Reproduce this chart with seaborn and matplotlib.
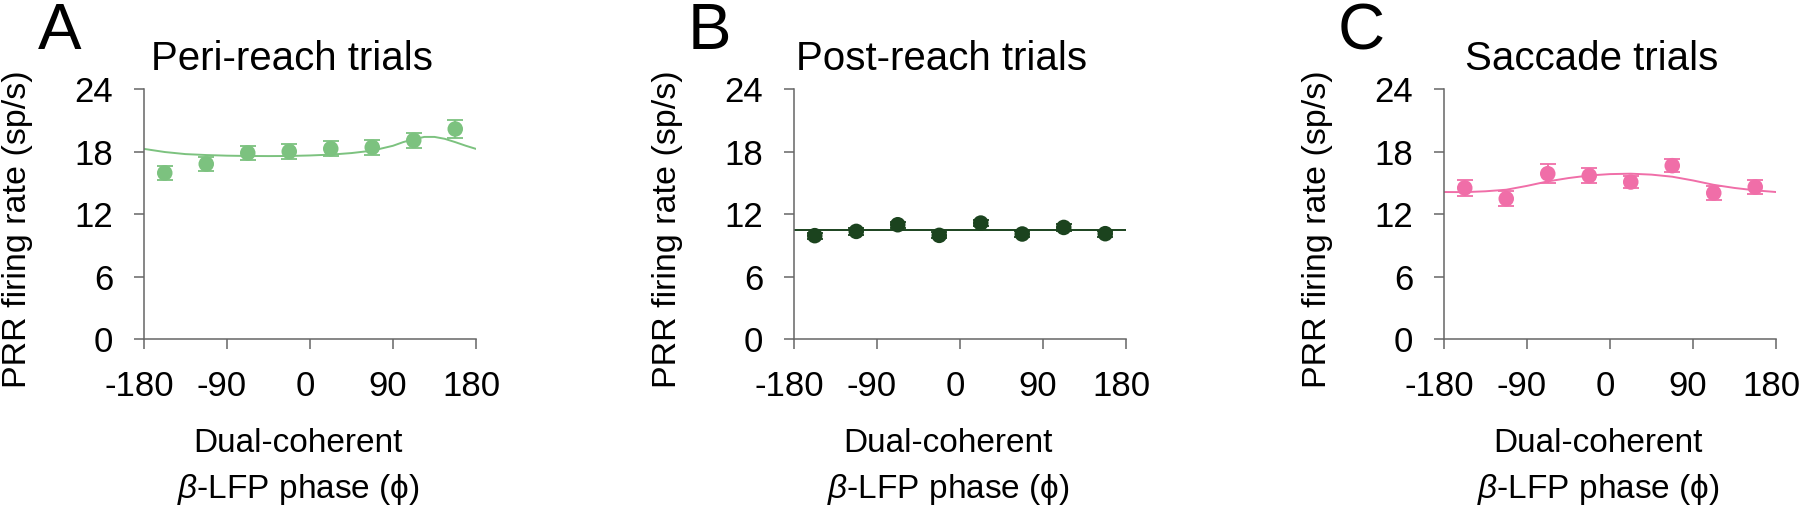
import numpy as np
import pandas as pd
import seaborn as sns
import matplotlib.pyplot as plt
from matplotlib.transforms import ScaledTranslation

sns.set_theme(style="ticks")
plt.rcParams["font.family"] = ["Liberation Sans", "DejaVu Sans"]
plt.rcParams["mathtext.fontset"] = "custom"
plt.rcParams["mathtext.it"] = "Liberation Sans:italic"
plt.rcParams["mathtext.rm"] = "Liberation Sans"
plt.rcParams["axes.unicode_minus"] = False
plt.rcParams["text.color"] = "black"
plt.rcParams["axes.labelcolor"] = "black"

# Binned phase (deg) of the dual-coherent beta-LFP
phase = [-157.5, -112.5, -67.5, -22.5, 22.5, 67.5, 112.5, 157.5]

# Mean firing rate and SEM per phase bin
rate_peri = [15.94, 16.8, 17.86, 18.0, 18.27, 18.4, 19.07, 20.16]
sem_peri = [0.64, 0.67, 0.7, 0.72, 0.7, 0.69, 0.72, 0.86]
rate_post = [9.92, 10.33, 10.97, 9.95, 11.13, 10.08, 10.71, 10.11]
sem_post = [0.3, 0.3, 0.3, 0.3, 0.3, 0.3, 0.3, 0.3]
rate_sacc = [14.5, 13.47, 15.87, 15.68, 15.07, 16.64, 14.02, 14.59]
sem_sacc = [0.74, 0.72, 0.9, 0.7, 0.6, 0.65, 0.7, 0.7]

# Fitted curves
fit_phase_peri = [-180, -157.5, -135, -112.5, -90, -67.5, -45, -22.5, 0, 22.5, 45,
                  67.5, 90, 101, 112.5, 124, 135, 146, 157.5, 169, 180]
fit_peri = [18.25, 17.95, 17.75, 17.66, 17.6, 17.57, 17.56, 17.57, 17.62, 17.7, 17.85,
            18.08, 18.55, 18.9, 19.18, 19.4, 19.4, 19.22, 18.9, 18.55, 18.25]
fit_phase_post = [-180, 180]
fit_post = [10.43, 10.43]
fit_phase_sacc = [-180, -157.5, -135, -112.5, -90, -67.5, -45, -22.5, 0, 22.5, 45,
                  67.5, 90, 112.5, 135, 157.5, 180]
fit_sacc = [14.11, 14.1, 14.18, 14.33, 14.7, 15.13, 15.45, 15.7, 15.83, 15.87, 15.78,
            15.58, 15.22, 14.8, 14.5, 14.27, 14.11]

letters = ["A", "B", "C"]
titles = ["Peri-reach trials", "Post-reach trials", "Saccade trials"]
colors = ["#7cc27f", "#1b431e", "#f06ea8"]
rates = [rate_peri, rate_post, rate_sacc]
sems = [sem_peri, sem_post, sem_sacc]
fit_phases = [fit_phase_peri, fit_phase_post, fit_phase_sacc]
fits = [fit_peri, fit_post, fit_sacc]

xticks = [-180, -90, 0, 90, 180]
yticks = [0, 6, 12, 18, 24]

W, H = 1800, 511
fig = plt.figure(figsize=(W / 100, H / 100), dpi=100)
lefts = [144, 794, 1444]
spine_col = "#666666"

for i in range(3):
    ax = fig.add_axes([lefts[i] / W, (H - 339) / H, 332 / W, 250 / H])
    df = pd.DataFrame({"phase": phase, "rate": rates[i], "sem": sems[i]})
    fit_df = pd.DataFrame({"phase": fit_phases[i], "rate": fits[i]})

    sns.lineplot(data=fit_df, x="phase", y="rate", color=colors[i], lw=1.4, ax=ax)
    ax.errorbar(df["phase"], df["rate"], yerr=df["sem"], fmt="none",
                ecolor=colors[i], elinewidth=1.3, capsize=5.5, capthick=1.3)
    sns.scatterplot(data=df, x="phase", y="rate", color=colors[i], s=125,
                    edgecolor="none", ax=ax, zorder=3)

    ax.set_xlim(-180, 180)
    ax.set_ylim(0, 24)
    ax.set_xticks(xticks)
    ax.set_yticks(yticks)
    ax.set_xticklabels([str(t) for t in xticks])
    ax.set_yticklabels([str(t) for t in yticks])
    sns.despine(ax=ax)
    for s in ["left", "bottom"]:
        ax.spines[s].set_color(spine_col)
        ax.spines[s].set_linewidth(1.1)
    ax.tick_params(direction="out", length=7.2, width=1.1, color=spine_col,
                   labelsize=25, pad=15, labelcolor="black")
    for lab in ax.get_xticklabels():
        lab.set_transform(lab.get_transform() + ScaledTranslation(-0.05, 0, fig.dpi_scale_trans))

    ax.set_ylabel("PRR firing rate (sp/s)", fontsize=24.5)
    ax.yaxis.set_label_coords(-0.335, 0.44)
    ax.set_xlabel("Dual-coherent\n$\\beta$-LFP phase (ϕ)", fontsize=24, linespacing=1.5)
    ax.xaxis.set_label_coords(0.464, -0.355)

    ax.text(0.445, 1.077, titles[i], transform=ax.transAxes, ha="center",
            va="baseline", fontsize=29)
    fig.text((lefts[i] - 106) / W, (H - 49) / H, letters[i], fontsize=47,
             ha="left", va="baseline")

plt.savefig("out.png", dpi=100)
